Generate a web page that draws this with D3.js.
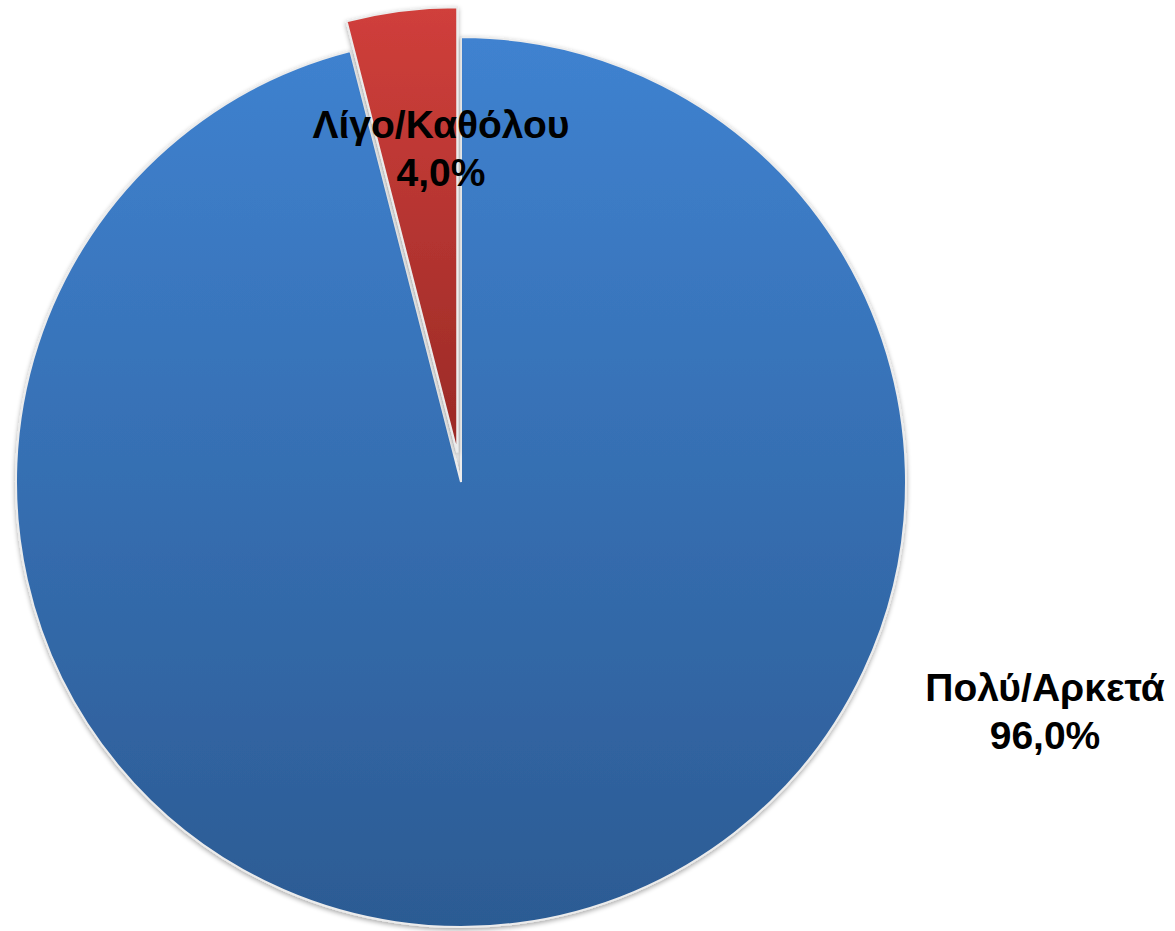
<!DOCTYPE html>
<html>
<head>
<meta charset="utf-8">
<script src="https://cdn.jsdelivr.net/npm/d3@7"></script>
<style>
  html, body { margin: 0; padding: 0; background: #ffffff; }
  svg { display: block; }
</style>
</head>
<body>
<div id="chart"></div>
<script>
// data
const categories = ["Πολύ/Αρκετά", "Λίγο/Καθόλου"];
const values = [96.0, 4.0];
const valueLabels = ["96,0%", "4,0%"];

const width = 1175;
const height = 931;
const cx = 461, cy = 482, radius = 445;
const explode = 30;

const svg = d3.select("#chart")
  .append("svg")
  .attr("width", width)
  .attr("height", height);

const defs = svg.append("defs");

// vertical gradients across the pie
const gradStops = [
  { id: "gBlue", top: "#3f82d0", bottom: "#2c5b93", y2: radius },
  { id: "gRed", top: "#d03f3b", bottom: "#9a2a26", y2: 0 }
];
gradStops.forEach(g => {
  const lg = defs.append("linearGradient")
    .attr("id", g.id)
    .attr("gradientUnits", "userSpaceOnUse")
    .attr("x1", 0).attr("y1", -radius)
    .attr("x2", 0).attr("y2", g.y2);
  lg.append("stop").attr("offset", "0%").attr("stop-color", g.top);
  lg.append("stop").attr("offset", "100%").attr("stop-color", g.bottom);
});

const shadow = defs.append("filter").attr("id", "shadow")
  .attr("x", "-10%").attr("y", "-10%").attr("width", "120%").attr("height", "120%");
shadow.append("feGaussianBlur").attr("in", "SourceAlpha").attr("stdDeviation", 2.5);
shadow.append("feOffset").attr("dx", 0).attr("dy", 2).attr("result", "b");
shadow.append("feComponentTransfer").append("feFuncA").attr("type", "linear").attr("slope", 0.35);
const merge = shadow.append("feMerge");
merge.append("feMergeNode");
merge.append("feMergeNode").attr("in", "SourceGraphic");

const pie = d3.pie().sort(null).value(d => d);
const arcs = pie(values);
const arc = d3.arc().innerRadius(0).outerRadius(radius);

const g = svg.append("g").attr("transform", `translate(${cx},${cy})`);
const fills = ["url(#gBlue)", "url(#gRed)"];

g.selectAll(".slice")
  .data(arcs)
  .enter().append("path")
  .attr("class", "slice")
  .attr("transform", (d, i) => {
    if (i === 0) return null;
    const a = (d.startAngle + d.endAngle) / 2;
    return `translate(${Math.sin(a) * explode},${-Math.cos(a) * explode})`;
  })
  .attr("d", arc)
  .attr("fill", (d, i) => fills[i])
  .attr("stroke", "#ececec")
  .attr("stroke-width", 2)
  .attr("stroke-linejoin", "miter")
  .attr("filter", "url(#shadow)");

// labels
const labelPos = [
  { x: 1045, y: 701 },
  { x: 441, y: 138 }
];
const lineGap = 48;

const labels = svg.selectAll(".lbl")
  .data(categories)
  .enter().append("text")
  .attr("class", "lbl")
  .attr("text-anchor", "middle")
  .style("font-family", "'Liberation Sans', Arial, sans-serif")
  .style("font-weight", "bold")
  .style("font-size", "39px")
  .attr("fill", "#000");

labels.append("tspan")
  .attr("x", (d, i) => labelPos[i].x)
  .attr("y", (d, i) => labelPos[i].y)
  .text(d => d);

labels.append("tspan")
  .attr("x", (d, i) => labelPos[i].x)
  .attr("y", (d, i) => labelPos[i].y + lineGap)
  .text((d, i) => valueLabels[i]);
</script>
</body>
</html>
